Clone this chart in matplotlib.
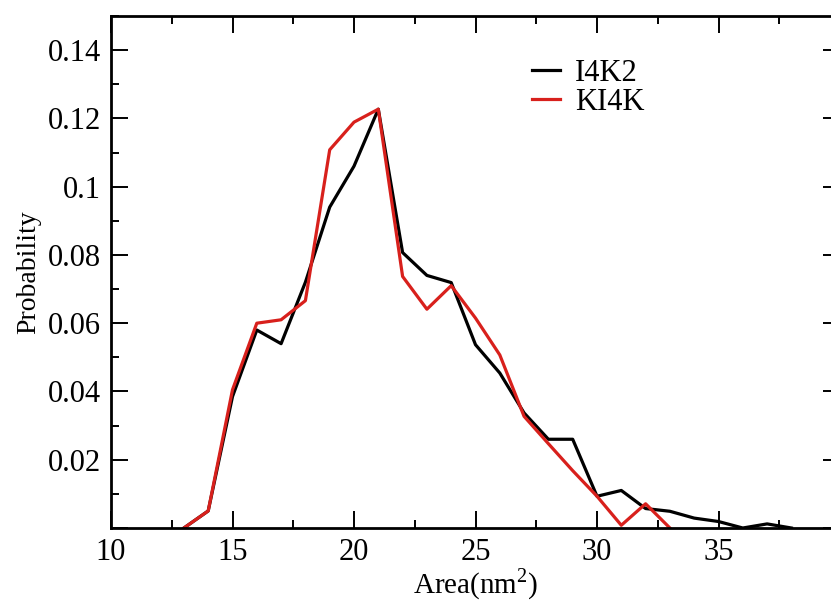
#area probability distribution, I4K2 vs KI4K
import matplotlib
matplotlib.use("Agg")
import matplotlib.pyplot as plt
from matplotlib.ticker import MultipleLocator, FuncFormatter

plt.rcParams['font.family'] = ['Liberation Serif', 'DejaVu Serif']
plt.rcParams['mathtext.fontset'] = 'custom'
plt.rcParams['mathtext.rm'] = 'Liberation Serif'

#data
area = [13, 14, 15, 16, 17, 18, 19, 20, 21, 22, 23, 24, 25,
        26, 27, 28, 29, 30, 31, 32, 33, 34, 35, 36, 37, 38]
i4k2 = [0.0, 0.005, 0.0385, 0.058, 0.054, 0.072, 0.094, 0.106, 0.1227, 0.0807, 0.074, 0.0719, 0.0537,
        0.0454, 0.0337, 0.026, 0.026, 0.0093, 0.011, 0.0057, 0.0049, 0.0029, 0.0019, 0.0, 0.0012, 0.0]
area_k = [13, 14, 15, 16, 17, 18, 19, 20, 21, 22, 23, 24, 25,
          26, 27, 28, 29, 30, 31, 32, 33]
ki4k = [0.0, 0.005, 0.0405, 0.060, 0.061, 0.0666, 0.1108, 0.1189, 0.1227, 0.0737, 0.0641, 0.071, 0.0615,
        0.0507, 0.0327, 0.0247, 0.0168, 0.0093, 0.0008, 0.0071, 0.0]

fig = plt.figure(figsize=(8.31, 6.03), dpi=100)
#axes runs past the right edge like in the original crop
ax = fig.add_axes([111/831, 75/603, 729/831, 512/603])

ax.plot(area, i4k2, color="black", lw=2.3, label="I4K2")
ax.plot(area_k, ki4k, color="#d8201c", lw=2.3, label="KI4K")

ax.set_xlim(10, 40)
ax.set_ylim(0, 0.15)
ax.xaxis.set_major_locator(MultipleLocator(5))
ax.xaxis.set_minor_locator(MultipleLocator(2.5))
ax.yaxis.set_major_locator(MultipleLocator(0.02))
ax.yaxis.set_minor_locator(MultipleLocator(0.01))

def yfmt(v, pos):
    if v < 1e-9:
        return ""
    return ("%.2f" % v).rstrip("0")
def xfmt(v, pos):
    if v > 37:
        return ""
    return "%d" % v
ax.yaxis.set_major_formatter(FuncFormatter(yfmt))
ax.xaxis.set_major_formatter(FuncFormatter(xfmt))

ax.tick_params(which="both", direction="in", top=True, right=True, width=1.4)
ax.tick_params(which="major", length=12, labelsize=22, pad=7)
ax.tick_params(which="minor", length=6)
for s in ax.spines.values():
    s.set_linewidth(2)

ax.set_xlabel("Area(nm$^2$)", fontsize=21, labelpad=0)
ax.set_ylabel("Probability", fontsize=20, labelpad=5)

ax.legend(loc="upper left", bbox_to_anchor=(532/831, 1 - 59/603), bbox_transform=fig.transFigure,
          frameon=False, fontsize=22, handlelength=0.9, handletextpad=0.5,
          labelspacing=0.0, borderpad=0, borderaxespad=0)

fig.savefig("out.png", dpi=100)
